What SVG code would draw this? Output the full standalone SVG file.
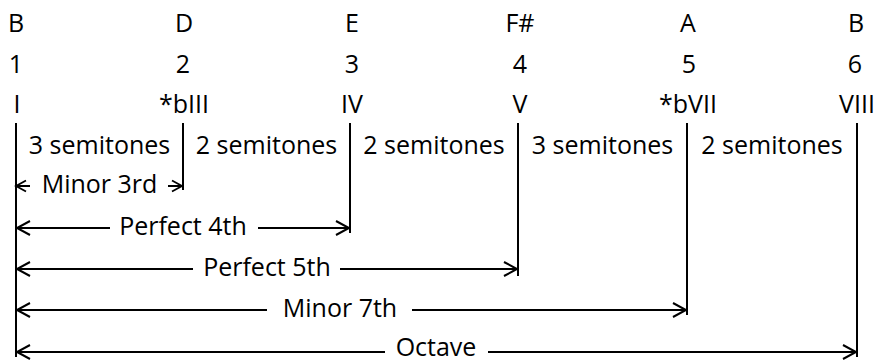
<svg xmlns="http://www.w3.org/2000/svg" width="876" height="362" viewBox="0 0 876 362">
  <defs>
    <style>
      text { font-family: "Open Sans", "Liberation Sans", sans-serif; font-size: 25px; fill: #000; text-anchor: middle; }
      .bar { stroke: #000; stroke-width: 2; fill: none; }
      .span { stroke: #000; stroke-width: 2; fill: none; }
    </style>
    <!-- open chevron arrowhead -->
    <marker id="chev" viewBox="-15 -9 17 18" refX="0" refY="0" markerWidth="17" markerHeight="18" markerUnits="userSpaceOnUse" orient="auto-start-reverse" overflow="visible">
      <path d="M-13,-7 L0,0 L-13,7" fill="none" stroke="#000" stroke-width="2"/>
    </marker>
    <marker id="chev-sm" viewBox="-12 -7 14 14" refX="0" refY="0" markerWidth="14" markerHeight="14" markerUnits="userSpaceOnUse" orient="auto-start-reverse" overflow="visible">
      <path d="M-10,-5.5 L0,0 L-10,5.5" fill="none" stroke="#000" stroke-width="1.8"/>
    </marker>
  </defs>

  <!-- scale degrees: note, number, roman numeral, guide line -->
  <g id="deg-1">
    <text x="16" y="32">B</text>
    <text x="16" y="73">1</text>
    <text x="17" y="113">I</text>
    <line class="bar" x1="16" y1="123" x2="16" y2="357"/>
  </g>
  <g id="deg-2">
    <text x="184" y="32">D</text>
    <text x="183" y="73">2</text>
    <text x="184" y="113">*bIII</text>
    <line class="bar" x1="183" y1="123" x2="183" y2="190"/>
  </g>
  <g id="deg-3">
    <text x="352" y="32">E</text>
    <text x="352" y="73">3</text>
    <text x="352" y="113">IV</text>
    <line class="bar" x1="350" y1="123" x2="350" y2="233"/>
  </g>
  <g id="deg-4">
    <text x="520" y="32">F#</text>
    <text x="520" y="73">4</text>
    <text x="520" y="113">V</text>
    <line class="bar" x1="518" y1="123" x2="518" y2="276"/>
  </g>
  <g id="deg-5">
    <text x="688" y="32">A</text>
    <text x="689" y="73">5</text>
    <text x="688" y="113">*bVII</text>
    <line class="bar" x1="687" y1="123" x2="687" y2="315"/>
  </g>
  <g id="deg-6">
    <text x="856" y="32">B</text>
    <text x="855" y="73">6</text>
    <text x="857" y="113">VIII</text>
    <line class="bar" x1="857" y1="123" x2="857" y2="357"/>
  </g>

  <!-- step sizes between degrees -->
  <g id="steps">
    <text x="99.5" y="154">3 semitones</text>
    <text x="266.5" y="154">2 semitones</text>
    <text x="434" y="154">2 semitones</text>
    <text x="602.5" y="154">3 semitones</text>
    <text x="772" y="154">2 semitones</text>
  </g>

  <!-- intervals measured from the root -->
  <g id="connectors">
    <g id="minor-3rd">
      <line class="span" x1="30" y1="186" x2="16" y2="186" marker-end="url(#chev-sm)"/>
      <line class="span" x1="168" y1="186" x2="182" y2="186" marker-end="url(#chev-sm)"/>
      <text x="99.5" y="193">Minor 3rd</text>
    </g>
    <g id="perfect-4th">
      <line class="span" x1="110" y1="228" x2="17" y2="228" marker-end="url(#chev)"/>
      <line class="span" x1="258" y1="228" x2="349" y2="228" marker-end="url(#chev)"/>
      <text x="183" y="235">Perfect 4th</text>
    </g>
    <g id="perfect-5th">
      <line class="span" x1="193" y1="269" x2="17" y2="269" marker-end="url(#chev)"/>
      <line class="span" x1="340" y1="269" x2="517" y2="269" marker-end="url(#chev)"/>
      <text x="267" y="276">Perfect 5th</text>
    </g>
    <g id="minor-7th">
      <line class="span" x1="267" y1="310" x2="17" y2="310" marker-end="url(#chev)"/>
      <line class="span" x1="412" y1="310" x2="686" y2="310" marker-end="url(#chev)"/>
      <text x="340" y="317">Minor 7th</text>
    </g>
    <g id="octave">
      <line class="span" x1="385" y1="352" x2="17" y2="352" marker-end="url(#chev)"/>
      <line class="span" x1="488" y1="352" x2="856" y2="352" marker-end="url(#chev)"/>
      <text x="436" y="355.5">Octave</text>
    </g>
  </g>
</svg>
